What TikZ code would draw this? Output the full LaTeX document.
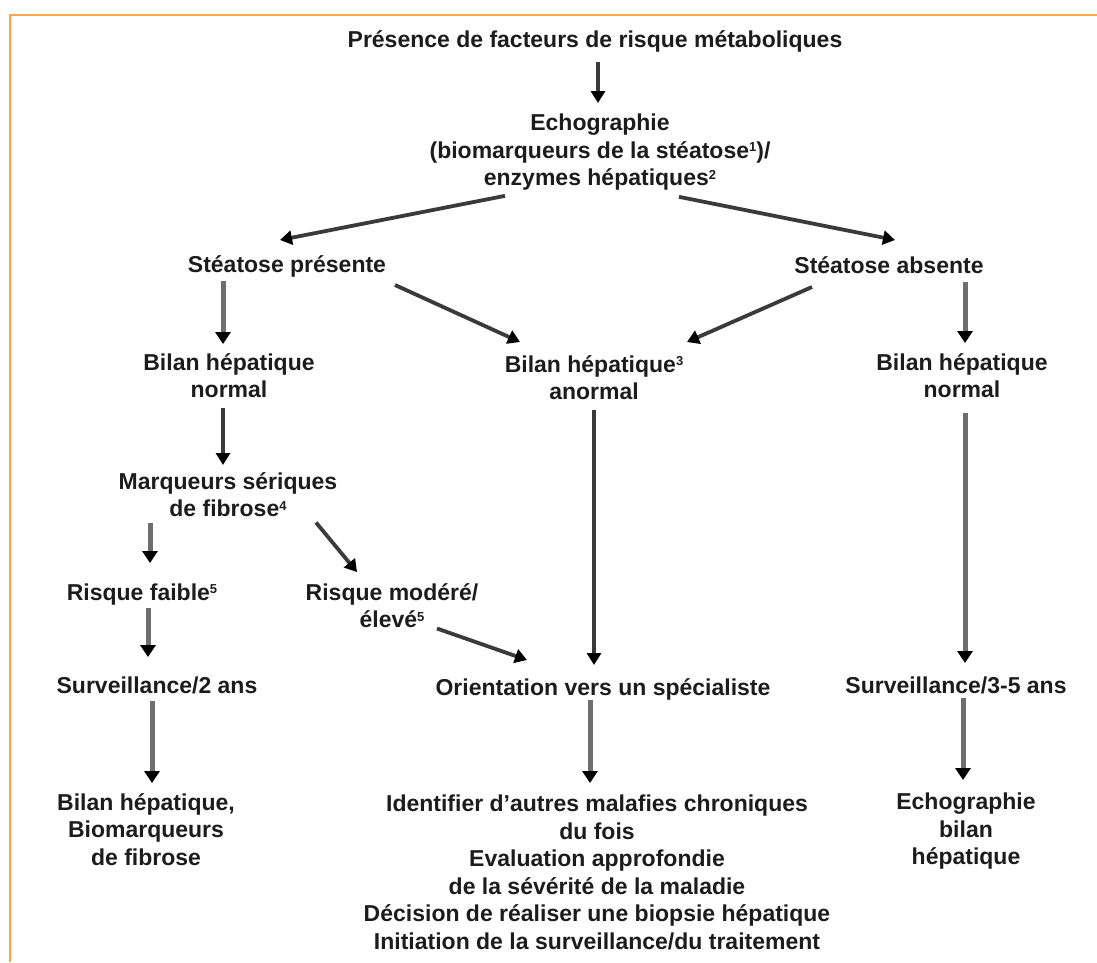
\documentclass[tikz,border=0pt]{standalone}
\usepackage{fontspec}
\setmainfont{Liberation Sans}
\usetikzlibrary{arrows.meta}
\definecolor{frame}{RGB}{250,166,75}
\definecolor{txt}{RGB}{28,28,28}
\definecolor{shaft}{RGB}{110,110,110}
\definecolor{dshaft}{RGB}{58,58,58}
\newcommand{\expo}[1]{\raisebox{6.5pt}{\fontsize{13}{13}\selectfont #1}}
\begin{document}
\begin{tikzpicture}[x=1pt,y=-1pt,
  every node/.style={font=\fontsize{23}{27.5}\selectfont\bfseries,text=txt,inner sep=0pt,align=center},
  varr/.style={draw=shaft,line width=5pt,-{Triangle[length=12pt,width=15pt,color=black]}},
  darr/.style={draw=dshaft,line width=3.8pt,-{Triangle[length=12pt,width=14pt,color=black]}}]
  \useasboundingbox (0,0) rectangle (1097,962);
  \draw[frame,line width=1.5pt] (1097,15) -- (10,15) -- (10,962);
  % niveau 1
  \node[anchor=base] (pres) at (595,47) {Présence de facteurs de risque métaboliques};
  \node[anchor=north] (echo) at (600,114) {Echographie\\(biomarqueurs de la stéatose\expo{1})/\\enzymes hépatiques\expo{2}};
  \node[anchor=base] (stp) at (287,272) {Stéatose présente};
  \node[anchor=base] (sta) at (889,273) {Stéatose absente};
  % bilans
  \node[anchor=north] (bhn1) at (229,353) {Bilan hépatique\\normal};
  \node[anchor=north] (bha) at (594,355) {Bilan hépatique\expo{3}\\anormal};
  \node[anchor=north] (bhn2) at (962,353) {Bilan hépatique\\normal};
  % fibrose
  \node[anchor=north] (mfs) at (228,472) {Marqueurs sériques\\de fibrose\expo{4}};
  \node[anchor=base] (rf) at (142,600) {Risque faible\expo{5}};
  \node[anchor=north] (rme) at (392,583) {Risque modéré/\\élevé\expo{5}};
  % suivi
  \node[anchor=base] (s2) at (157,693) {Surveillance/2 ans};
  \node[anchor=base] (ori) at (603,695) {Orientation vers un spécialiste};
  \node[anchor=base] (s35) at (956,693) {Surveillance/3-5 ans};
  \node[anchor=north] (bl) at (146,793) {Bilan hépatique,\\Biomarqueurs\\de fibrose};
  \node[anchor=north] (bm) at (597,795) {Identifier d’autres malafies chroniques\\du fois\\Evaluation approfondie\\de la sévérité de la maladie\\Décision de réaliser une biopsie hépatique\\Initiation de la surveillance/du traitement};
  \node[anchor=north] (br) at (966,793) {Echographie\\bilan\\hépatique};
  % fleches
  \draw[darr] ([shift={(3,15)}]pres.base) -- ([shift={(-2,-11)}]echo.north);
  \draw[darr] ([shift={(-95,5)}]echo.south) -- ([shift={(-7,-32)}]stp.base);
  \draw[darr] ([shift={(79,6)}]echo.south) -- ([shift={(6,-33)}]sta.base);
  \draw[varr] ([shift={(-64,9)}]stp.base) -- ([shift={(-6,-9)}]bhn1.north);
  \draw[darr] ([shift={(108,13)}]stp.base) -- ([shift={(-74,-13)}]bha.north);
  \draw[darr] ([shift={(-77,14)}]sta.base) -- ([shift={(93,-13)}]bha.north);
  \draw[varr] ([shift={(76,9)}]sta.base) -- ([shift={(3,-10)}]bhn2.north);
  \draw[darr] ([shift={(-6,10)}]bhn1.south) -- ([shift={(-5,-7)}]mfs.north);
  \draw[darr] ([shift={(0,10)}]bha.south) -- ([shift={(-9,-30)}]ori.base);
  \draw[varr] ([shift={(3,15)}]bhn2.south) -- ([shift={(9,-30)}]s35.base);
  \draw[varr] ([shift={(-78,5.5)}]mfs.south) -- ([shift={(8,-37)}]rf.base);
  \draw[darr] ([shift={(88,5.5)}]mfs.south) -- ([shift={(-35,-11)}]rme.north);
  \draw[varr] ([shift={(6,8)}]rf.base) -- ([shift={(-9,-36)}]s2.base);
  \draw[darr] ([shift={(45,0.5)}]rme.south) -- ([shift={(-76,-35)}]ori.base);
  \draw[varr] ([shift={(-5,8)}]s2.base) -- ([shift={(6,-10)}]bl.north);
  \draw[varr] ([shift={(-13,5)}]ori.base) -- ([shift={(-7,-12)}]bm.north);
  \draw[varr] ([shift={(7,5)}]s35.base) -- ([shift={(-3,-13)}]br.north);
\end{tikzpicture}
\end{document}
